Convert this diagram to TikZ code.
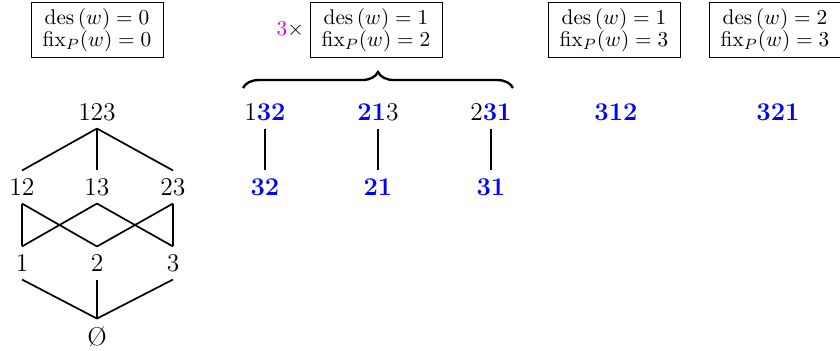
\documentclass[tikz,border=0pt]{standalone}
\usepackage{amsmath}
\usepackage{xcolor}
\usetikzlibrary{positioning,decorations.pathreplacing}

\definecolor{mag}{RGB}{220,0,220}
\newcommand{\blu}[1]{\textcolor{blue}{\mathbf{#1}}}

\begin{document}
\begin{tikzpicture}[x=0.47pt, y=-0.47pt]
        \tikzset{
            elt/.style={inner sep=3.9pt, outer sep=0pt, font=\large},
            statbox/.style={draw, align=center, inner xsep=5.5pt, inner ysep=2.5pt},
            edge/.style={thick}
        }
        \useasboundingbox (0,0) rectangle (840,350);

        % Statistic boxes
        \node[statbox] (b1) at (97,30)  {$\operatorname{des}\,(w)=0$\\[-1.5pt]$\operatorname{fix}_P(w)=0$};
        \node[statbox] (b2) at (376,30) {$\operatorname{des}\,(w)=1$\\[-1.5pt]$\operatorname{fix}_P(w)=2$};
        \node[statbox] (b3) at (614,30) {$\operatorname{des}\,(w)=1$\\[-1.5pt]$\operatorname{fix}_P(w)=3$};
        \node[statbox] (b4) at (775,30) {$\operatorname{des}\,(w)=2$\\[-1.5pt]$\operatorname{fix}_P(w)=3$};
        \node[left=0pt of b2, inner sep=2.5pt] (mult) {$\textcolor{mag}{3}\times$};

        % Brace over the three permutations
        \coordinate (brl) at (243,88);
        \coordinate (brr) at (513,88);
        \draw[line width=1.1pt, decorate, decoration={brace, amplitude=7.5pt}] (brl) -- (brr);

        % Boolean lattice
        \node[elt] (n123) at (97,112)  {$123$};
        \node[elt] (n12)  at (22,187)  {$12$};
        \node[elt] (n13)  at (97,187)  {$13$};
        \node[elt] (n23)  at (173,187) {$23$};
        \node[elt] (n1)   at (22,263)  {$1$};
        \node[elt] (n2)   at (97,263)  {$2$};
        \node[elt] (n3)   at (173,263) {$3$};
        \node[elt] (nemp) at (97,337)  {\O};

        \foreach \a/\b in {n123/n12, n123/n13, n123/n23,
                           n12/n1, n12/n2, n13/n1, n13/n3, n23/n2, n23/n3,
                           n1/nemp, n2/nemp, n3/nemp}
            \draw[edge] (\a.south) -- (\b.north);

        % Permutations
        \node[elt] (p132) at (265,112) {$1\blu{32}$};
        \node[elt] (p213) at (378,112) {$\blu{21}3$};
        \node[elt] (p231) at (491,112) {$2\blu{31}$};
        \node[elt] (p312) at (616,112) {$\blu{312}$};
        \node[elt] (p321) at (778,112) {$\blu{321}$};
        \node[elt] (c32)  at (265,187) {$\blu{32}$};
        \node[elt] (c21)  at (378,187) {$\blu{21}$};
        \node[elt] (c31)  at (491,187) {$\blu{31}$};

        \foreach \a/\b in {p132/c32, p213/c21, p231/c31}
            \draw[edge] (\a.south) -- (\b.north);
\end{tikzpicture}
\end{document}
